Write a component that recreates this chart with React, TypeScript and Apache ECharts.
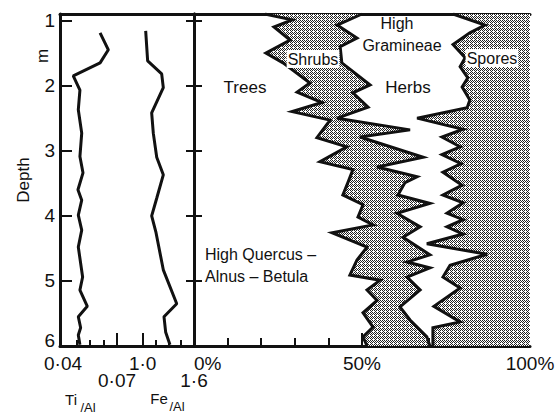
import React, { useEffect, useRef } from "react";
import * as echarts from "echarts";

// ---------- data ----------
const depthTickValues = [1, 2, 3, 4, 5, 6];
const depthLabelsUpper = [1, 2, 3, 4, 5];
const depthLabelBottom = [6];
const tiAlLabelRow1 = [0.04];
const tiAlLabelRow2 = [0.07];
const tiAlMinorTicks = [0.0475, 0.055, 0.0625];
const feAlLabelRow1 = [1.0];
const feAlLabelRow2 = [1.6];
const feAlMinorTicks = [1.15, 1.3, 1.45];
const pctLabelValues = [50, 100];
const pctZeroLabel = [0];
const pctMinorTicks = [10, 20, 30, 40, 60, 70, 80, 90];

// [depth (m), ratio]
const tiAl = [
  [1.19, 0.0606], [1.45, 0.0652], [1.65, 0.0606], [1.85, 0.0457], [2.07, 0.0494],
  [2.37, 0.0485], [2.73, 0.0504], [3.09, 0.0494], [3.34, 0.0511], [3.6, 0.0483],
  [3.76, 0.0504], [3.99, 0.0485], [4.22, 0.0504], [4.48, 0.0485], [4.94, 0.0509],
  [5.14, 0.0494], [5.39, 0.0535], [5.55, 0.0485], [5.72, 0.0498], [5.83, 0.0485],
  [5.98, 0.0494],
];
const feAl = [
  [1.16, 1.035], [1.62, 1.058], [1.82, 1.222], [2.03, 1.241], [2.42, 1.105],
  [2.73, 1.124], [3.1, 1.164], [3.37, 1.241], [3.73, 1.164], [4.0, 1.105],
  [4.26, 1.156], [4.83, 1.241], [5.35, 1.398], [5.55, 1.249], [5.79, 1.269],
  [5.98, 1.319],
];

// cumulative pollen percentages [depth (m), %]
const treesLimit = [
  [0.9, 21.1], [0.99, 29.2], [1.1, 23.8], [1.3, 28.6], [1.5, 21.4], [1.65, 26.5],
  [1.96, 34.5], [2.1, 30.7], [2.26, 38.1], [2.4, 29.2], [2.53, 40.5], [2.8, 36.6],
  [2.94, 45.5], [3.17, 37.5], [3.29, 47.3], [3.49, 45.8], [3.68, 44.3], [3.83, 50.3],
  [4.02, 48.8], [4.14, 53.3], [4.26, 41.1], [4.48, 51.5], [4.68, 48.5], [4.91, 46.4],
  [4.99, 55.4], [5.14, 51.5], [5.3, 54.5], [5.49, 50.3], [5.71, 53.3], [5.86, 50.3],
  [6.0, 51.5],
];
const shrubsLimit = [
  [0.9, 50.0], [1.07, 42.6], [1.27, 48.5], [1.4, 43.5], [1.65, 44.0], [1.99, 52.4],
  [2.11, 47.3], [2.33, 51.8], [2.5, 42.6], [2.68, 64.3], [2.79, 49.4], [3.1, 68.2],
  [3.25, 54.5], [3.4, 66.4], [3.49, 62.8], [3.68, 60.7], [3.81, 70.2], [3.96, 60.4],
  [4.17, 67.3], [4.33, 62.2], [4.6, 70.2], [4.71, 63.4], [4.8, 70.2], [4.94, 63.4],
  [5.14, 67.3], [5.4, 61.3], [5.6, 64.3], [5.86, 69.3], [6.0, 70.2],
];
const herbsLimit = [
  [0.9, 77.1], [1.07, 86.6], [1.19, 82.1], [1.37, 77.1], [1.57, 80.7], [1.71, 79.2],
  [1.88, 81.5], [2.02, 79.8], [2.22, 82.1], [2.34, 81.3], [2.5, 66.4], [2.67, 80.1],
  [2.79, 73.8], [2.94, 79.2], [3.06, 73.8], [3.2, 79.5], [3.33, 74.1], [3.53, 79.8],
  [3.68, 74.1], [3.8, 80.1], [3.96, 75.3], [4.06, 80.1], [4.17, 75.3], [4.28, 80.1],
  [4.43, 69.3], [4.59, 87.2], [4.76, 76.2], [4.94, 74.1], [5.11, 79.2], [5.39, 71.4],
  [5.63, 79.2], [5.72, 71.1], [6.0, 71.1],
];

const DEPTH_MIN = 0.9;
const DEPTH_MAX = 6;
const TI_MIN = 0.03833;
const TI_MAX = 0.11278;
const FE_MIN = 0.033;
const FE_MAX = 1.6;

const FONT = "'Liberation Sans', Arial, sans-serif";
const BLACK = "#111";

function fmtDot(v: number, digits: number) {
  return v.toFixed(digits).replace(".", "\u00b7");
}

function makeStipple() {
  const c = document.createElement("canvas");
  c.width = 4;
  c.height = 4;
  const ctx = c.getContext("2d")!;
  ctx.fillStyle = "#ffffff";
  ctx.fillRect(0, 0, 4, 4);
  ctx.fillStyle = "#222222";
  const dots = [[0, 0], [2, 0], [1, 1], [3, 1], [0, 2], [2, 2], [3, 3]];
  dots.forEach(([x, y]) => ctx.fillRect(x, y, 1, 1));
  return c;
}

export default function App() {
  const ref = useRef<HTMLDivElement>(null);

  useEffect(() => {
    if (!ref.current) return;
    const chart = echarts.init(ref.current, undefined, { renderer: "svg" });
    const stipple = { image: makeStipple(), repeat: "repeat" } as any;

    const toXY = (arr: number[][]) => arr.map((p) => [p[1], p[0]]);

    const lineStyleAxis = { color: BLACK, width: 3 };
    const tickStyle = { color: BLACK, width: 2 };
    const hidden = { axisLine: { show: false }, axisTick: { show: false }, axisLabel: { show: false }, splitLine: { show: false } };
    const labelBase = { color: BLACK, fontSize: 19, fontFamily: FONT, lineHeight: 16 };
    const X_MARGIN = 9;

    const option: any = {
      animation: false,
      textStyle: { fontFamily: FONT },
      grid: [
        { left: 60, right: 364, top: 14, bottom: 69, containLabel: false },
        { left: 194, right: 28, top: 14, bottom: 69, containLabel: false },
      ],
      xAxis: [
        // 0 Ti/Al (row 1 label + line)
        {
          type: "value", gridIndex: 0, position: "bottom", min: TI_MIN, max: TI_MAX,
          axisLine: { show: true, lineStyle: lineStyleAxis },
          axisTick: { show: true, inside: true, length: 13, customValues: [0.07], lineStyle: tickStyle },
          axisLabel: { show: true, customValues: tiAlLabelRow1, margin: X_MARGIN, ...labelBase, formatter: (v: number) => fmtDot(v, 2) },
          splitLine: { show: false },
        },
        // 1 Fe/Al (row 1 label)
        {
          type: "value", gridIndex: 0, position: "bottom", min: FE_MIN, max: FE_MAX,
          axisLine: { show: false },
          axisTick: { show: true, inside: true, length: 13, customValues: [1.0], lineStyle: tickStyle },
          axisLabel: { show: true, customValues: feAlLabelRow1, margin: X_MARGIN, ...labelBase, formatter: (v: number) => fmtDot(v, 1) },
          splitLine: { show: false },
        },
        // 2 Ti/Al minor ticks
        {
          type: "value", gridIndex: 0, position: "bottom", min: TI_MIN, max: TI_MAX, ...hidden,
          axisTick: { show: true, inside: true, length: 6, customValues: tiAlMinorTicks, lineStyle: tickStyle },
        },
        // 3 Fe/Al minor ticks
        {
          type: "value", gridIndex: 0, position: "bottom", min: FE_MIN, max: FE_MAX, ...hidden,
          axisTick: { show: true, inside: true, length: 6, customValues: feAlMinorTicks, lineStyle: tickStyle },
        },
        // 4 top border left panel
        {
          type: "value", gridIndex: 0, position: "top", min: 0, max: 1, ...hidden,
          axisLine: { show: true, lineStyle: lineStyleAxis },
        },
        // 5 percentage
        {
          type: "value", gridIndex: 1, position: "bottom", min: 0, max: 100,
          axisLine: { show: true, lineStyle: lineStyleAxis },
          axisTick: { show: true, inside: true, length: 8, customValues: pctMinorTicks, lineStyle: tickStyle },
          axisLabel: { show: true, customValues: pctLabelValues, margin: X_MARGIN, ...labelBase, formatter: (v: number) => v + "%" },
          splitLine: { show: false },
        },
        // 6 percentage 50 tall tick
        {
          type: "value", gridIndex: 1, position: "bottom", min: 0, max: 100, ...hidden,
          axisTick: { show: true, inside: true, length: 13, customValues: [50], lineStyle: tickStyle },
        },
        // 7 top border right panel
        {
          type: "value", gridIndex: 1, position: "top", min: 0, max: 100, ...hidden,
          axisLine: { show: true, lineStyle: lineStyleAxis },
        },
        // 8 Ti/Al row 2 label
        {
          type: "value", gridIndex: 0, position: "bottom", offset: 17, min: TI_MIN, max: TI_MAX, ...hidden,
          axisLabel: { show: true, customValues: tiAlLabelRow2, margin: X_MARGIN, ...labelBase, formatter: (v: number) => fmtDot(v, 2) },
        },
        // 9 Fe/Al row 2 label
        {
          type: "value", gridIndex: 0, position: "bottom", offset: 17, min: FE_MIN, max: FE_MAX, ...hidden,
          axisLabel: { show: true, customValues: feAlLabelRow2, margin: X_MARGIN, ...labelBase, formatter: (v: number) => fmtDot(v, 1) },
        },
        // 10 0% label (left aligned)
        {
          type: "value", gridIndex: 1, position: "bottom", min: 0, max: 100, ...hidden,
          axisLabel: { show: true, customValues: pctZeroLabel, margin: X_MARGIN, align: "left", ...labelBase, formatter: (v: number) => v + "%" },
        },
      ],
      yAxis: [
        // 0 depth (left panel, left)
        {
          type: "value", gridIndex: 0, position: "left", inverse: true, min: DEPTH_MIN, max: DEPTH_MAX,
          name: "Depth", nameLocation: "middle", nameGap: 28, nameRotate: 90,
          nameTextStyle: { color: BLACK, fontSize: 17, fontFamily: FONT },
          axisLine: { show: true, lineStyle: lineStyleAxis },
          axisTick: { show: true, inside: true, length: 12, customValues: depthTickValues, lineStyle: tickStyle },
          axisLabel: { show: true, customValues: depthLabelsUpper, margin: 5, color: BLACK, fontSize: 19, fontFamily: FONT },
          splitLine: { show: false },
        },
        // 1 left panel right side ticks
        {
          type: "value", gridIndex: 0, position: "right", inverse: true, min: DEPTH_MIN, max: DEPTH_MAX, ...hidden,
          axisTick: { show: true, inside: true, length: 8, customValues: depthTickValues.slice(0, 5), lineStyle: tickStyle },
        },
        // 2 right panel depth
        {
          type: "value", gridIndex: 1, position: "left", inverse: true, min: DEPTH_MIN, max: DEPTH_MAX, ...hidden,
          axisLine: { show: true, lineStyle: lineStyleAxis },
          axisTick: { show: true, inside: true, length: 8, customValues: depthTickValues.slice(0, 5), lineStyle: tickStyle },
        },
        // 3 right border
        {
          type: "value", gridIndex: 1, position: "right", inverse: true, min: DEPTH_MIN, max: DEPTH_MAX, ...hidden,
          axisLine: { show: true, lineStyle: lineStyleAxis },
        },
        // 4 bottom depth label, lifted clear of the x labels
        {
          type: "value", gridIndex: 0, position: "left", inverse: true, min: DEPTH_MIN, max: DEPTH_MAX, ...hidden,
          axisLabel: {
            show: true, customValues: depthLabelBottom, margin: 5, color: BLACK, fontSize: 19, fontFamily: FONT, lineHeight: 12,
            formatter: (v: number) => v + "\n",
          },
        },
      ],
      series: [
        {
          type: "custom", name: "Shrubs", xAxisIndex: 5, yAxisIndex: 2, silent: true, clip: true, z: 1,
          data: [[50, 3]],
          renderItem: (_p: any, api: any) => {
            const pts = [
              ...treesLimit.map((p) => api.coord([p[1], p[0]])),
              ...shrubsLimit.slice().reverse().map((p) => api.coord([p[1], p[0]])),
            ];
            return { type: "polygon", shape: { points: pts }, style: { fill: stipple, stroke: "none" } };
          },
        },
        {
          type: "custom", name: "Spores", xAxisIndex: 5, yAxisIndex: 2, silent: true, clip: true, z: 1,
          data: [[90, 3]],
          renderItem: (_p: any, api: any) => {
            const pts = [
              ...herbsLimit.map((p) => api.coord([p[1], p[0]])),
              api.coord([100, DEPTH_MAX]),
              api.coord([100, DEPTH_MIN]),
            ];
            return { type: "polygon", shape: { points: pts }, style: { fill: stipple, stroke: "none" } };
          },
        },
        ...[treesLimit, shrubsLimit, herbsLimit].map((arr, i) => ({
          type: "line", name: ["Trees", "Shrubs", "Herbs"][i], xAxisIndex: 5, yAxisIndex: 2,
          data: toXY(arr), symbol: "none", z: 3,
          lineStyle: { color: BLACK, width: 3, join: "miter" },
        })),
        {
          type: "line", name: "Ti/Al", xAxisIndex: 0, yAxisIndex: 0, data: toXY(tiAl), symbol: "none",
          lineStyle: { color: BLACK, width: 3 },
        },
        {
          type: "line", name: "Fe/Al", xAxisIndex: 1, yAxisIndex: 0, data: toXY(feAl), symbol: "none",
          lineStyle: { color: BLACK, width: 3 },
        },
      ],
      graphic: [
        { type: "text", z: 100, x: 245, y: 87, style: { text: "Trees", font: `17px ${FONT}`, fill: BLACK, align: "center", verticalAlign: "middle" } },
        { type: "text", z: 100, x: 313, y: 59, style: { text: "Shrubs", font: `16px ${FONT}`, fill: BLACK, align: "center", verticalAlign: "middle", backgroundColor: "#fff", padding: [1, 1] } },
        { type: "text", z: 100, x: 397, y: 23, style: { text: "High", font: `16px ${FONT}`, fill: BLACK, align: "center", verticalAlign: "middle" } },
        { type: "text", z: 100, x: 402, y: 45, style: { text: "Gramineae", font: `16px ${FONT}`, fill: BLACK, align: "center", verticalAlign: "middle" } },
        { type: "text", z: 100, x: 408, y: 87, style: { text: "Herbs", font: `17px ${FONT}`, fill: BLACK, align: "center", verticalAlign: "middle" } },
        { type: "text", z: 100, x: 492, y: 58, style: { text: "Spores", font: `16px ${FONT}`, fill: BLACK, align: "center", verticalAlign: "middle", backgroundColor: "#fff", padding: [1, 1] } },
        { type: "text", z: 100, x: 205, y: 254, style: { text: "High Quercus \u2013", font: `16px ${FONT}`, fill: BLACK, align: "left", verticalAlign: "middle" } },
        { type: "text", z: 100, x: 205, y: 276, style: { text: "Alnus \u2013 Betula", font: `16px ${FONT}`, fill: BLACK, align: "left", verticalAlign: "middle" } },
        { type: "text", z: 100, x: 42, y: 56, rotation: Math.PI / 2, style: { text: "m", font: `17px ${FONT}`, fill: BLACK, align: "center", verticalAlign: "middle" } },
        { type: "text", z: 100, x: 71, y: 399, style: { text: "Ti", font: `15px ${FONT}`, fill: BLACK, align: "center", verticalAlign: "middle" } },
        { type: "text", z: 100, x: 88, y: 407, style: { text: "/Al", font: `13px ${FONT}`, fill: BLACK, align: "center", verticalAlign: "middle" } },
        { type: "text", z: 100, x: 159, y: 398, style: { text: "Fe", font: `15px ${FONT}`, fill: BLACK, align: "center", verticalAlign: "middle" } },
        { type: "text", z: 100, x: 177, y: 406, style: { text: "/Al", font: `13px ${FONT}`, fill: BLACK, align: "center", verticalAlign: "middle" } },
      ],
    };

    chart.setOption(option);
    return () => chart.dispose();
  }, []);

  return <div ref={ref} style={{ width: 558, height: 415, position: "absolute", left: 0, top: 0 }} />;
}
